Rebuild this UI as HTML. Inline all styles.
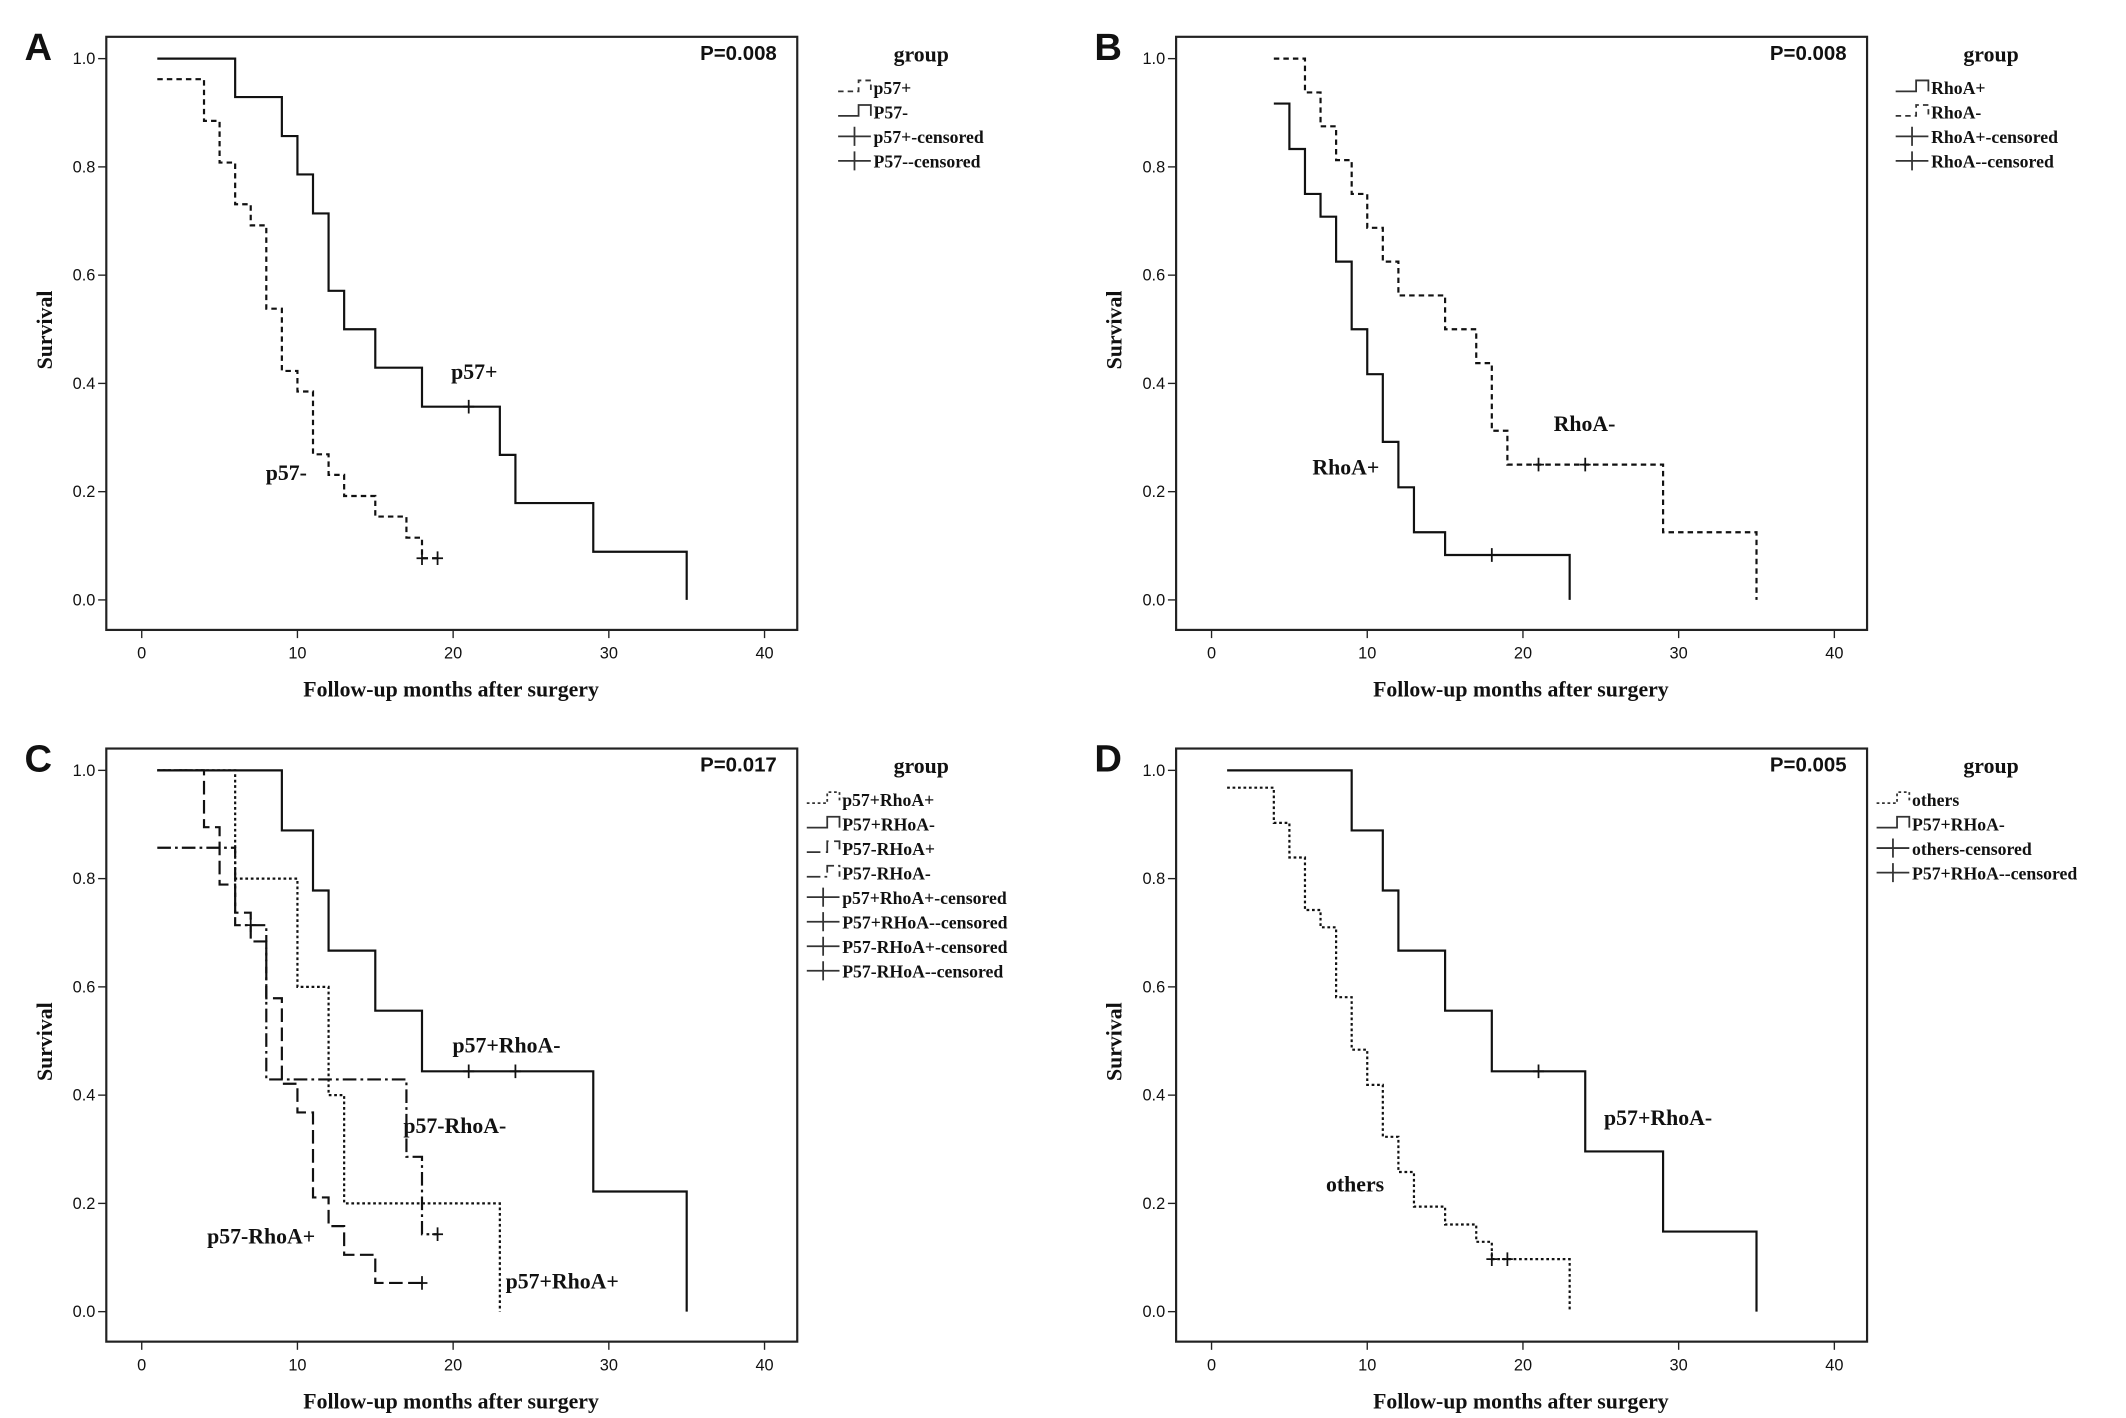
<!DOCTYPE html>
<html><head><meta charset="utf-8"><style>
html,body{margin:0;padding:0;background:#fff;}
svg{display:block;}
text{font-family:"Liberation Serif",serif;fill:#111;}
.tick{font-family:"Liberation Sans",sans-serif;font-size:12px;}
.lbl{font-weight:bold;font-size:16px;}
.leg{font-weight:bold;font-size:13px;}
.letter{font-family:"Liberation Sans",sans-serif;font-weight:bold;font-size:28px;}
.pval{font-family:"Liberation Sans",sans-serif;font-weight:bold;font-size:15px;}
</style></head><body>
<svg id="fig" width="2126" height="1418" viewBox="0 0 1560 1040" preserveAspectRatio="none" xmlns="http://www.w3.org/2000/svg"></svg>
<script>
// ---- data ----
const xTicks = [0,10,20,30,40];
const yTicks = [0.0,0.2,0.4,0.6,0.8,1.0];
const panelLetters = ["A","B","C","D"];
const panelPvals = ["P=0.008","P=0.008","P=0.017","P=0.005"];

// Panel A
const aSolidStart = [1,1.0], aSolidT = [6,9,10,11,12,13,15,18,23,24,29,35], aSolidS = [0.929,0.857,0.786,0.714,0.571,0.5,0.429,0.357,0.268,0.179,0.089,0], aSolidCens = [21];
const aDashStart = [1,0.962], aDashT = [4,5,6,7,8,9,10,11,12,13,15,17,18], aDashS = [0.885,0.808,0.731,0.692,0.538,0.423,0.385,0.269,0.231,0.192,0.154,0.115,0.077], aDashCens = [18,19];
// Panel B
const bSolidStart = [4,0.917], bSolidT = [5,6,7,8,9,10,11,12,13,15,23], bSolidS = [0.833,0.75,0.708,0.625,0.5,0.417,0.292,0.208,0.125,0.083,0], bSolidCens = [18];
const bDashStart = [4,1.0], bDashT = [6,7,8,9,10,11,12,15,17,18,19,29,35], bDashS = [0.9375,0.875,0.8125,0.75,0.6875,0.625,0.5625,0.5,0.4375,0.3125,0.25,0.125,0], bDashCens = [21,24];
// Panel C
const cSolidStart = [1,1.0], cSolidT = [9,11,12,15,18,29,35], cSolidS = [0.889,0.778,0.667,0.556,0.444,0.222,0], cSolidCens = [21,24];
const cDotStart = [1,1.0], cDotT = [6,10,12,13,23], cDotS = [0.8,0.6,0.4,0.2,0], cDotCens = [];
const cLongStart = [1,1.0], cLongT = [4,5,6,7,8,9,10,11,12,13,15], cLongS = [0.895,0.789,0.737,0.684,0.579,0.421,0.368,0.211,0.158,0.105,0.053], cLongCens = [18];
const cDDStart = [1,0.857], cDDT = [6,8,17,18], cDDS = [0.714,0.429,0.286,0.143], cDDCens = [7,19];
// Panel D
const dSolidStart = [1,1.0], dSolidT = [9,11,12,15,18,24,29,35], dSolidS = [0.889,0.778,0.667,0.556,0.444,0.296,0.148,0], dSolidCens = [21];
const dDotStart = [1,0.968], dDotT = [4,5,6,7,8,9,10,11,12,13,15,17,18,23], dDotS = [0.903,0.839,0.742,0.71,0.581,0.484,0.419,0.323,0.258,0.194,0.161,0.129,0.097,0], dDotCens = [18,19];

const legA = ["p57+","P57-","p57+-censored","P57--censored"];
const legB = ["RhoA+","RhoA-","RhoA+-censored","RhoA--censored"];
const legC = ["p57+RhoA+","P57+RHoA-","P57-RHoA+","P57-RHoA-","p57+RhoA+-censored","P57+RHoA--censored","P57-RHoA+-censored","P57-RHoA--censored"];
const legD = ["others","P57+RHoA-","others-censored","P57+RHoA--censored"];

// ---- drawing ----
const NS="http://www.w3.org/2000/svg";
const svg=document.getElementById('fig');
function mk(tag,attrs,parent){const e=document.createElementNS(NS,tag);for(const k in attrs)e.setAttribute(k,attrs[k]);(parent||svg).appendChild(e);return e;}
const DASH={solid:"",dash:"4,3",dot:"2,2",long:"10,4",dd:"10,3,2,3"};

function panel(idx,ox,oy,series,legend,legStyles,labels,lx0){
  const g=mk('g',{transform:`translate(${ox},${oy})`});
  
  
  const X=t=>104+t*(561-104)/40;
  const Y=s=>440-s*(440-43);
  const box=mk('rect',{x:78,y:27,width:507,height:435,fill:'none',stroke:'#222','stroke-width':1.6},g);
  
  
  xTicks.forEach(t=>{
    mk('line',{x1:X(t),x2:X(t),y1:462,y2:468,stroke:'#222','stroke-width':1},g);
    const tx=mk('text',{x:X(t),y:483,'text-anchor':'middle',class:'tick'},g);tx.textContent=t;
    
    
  });
  yTicks.forEach(s=>{
    mk('line',{x1:72,x2:78,y1:Y(s),y2:Y(s),stroke:'#222','stroke-width':1},g);
    const tx=mk('text',{x:70,y:Y(s)+4,'text-anchor':'end',class:'tick'},g);tx.textContent=s.toFixed(1);
    
    
  });
  const xl=mk('text',{x:331,y:511,'text-anchor':'middle',class:'lbl'},g);xl.textContent='Follow-up months after surgery';
  
  
  const yl=mk('text',{x:0,y:0,'text-anchor':'middle',class:'lbl',transform:'translate(38,242) rotate(-90)'},g);yl.textContent='Survival';
  
  
  const lt=mk('text',{x:18,y:44,class:'letter'},g);lt.textContent=panelLetters[idx];
  
  
  const pv=mk('text',{x:570,y:44,'text-anchor':'end',class:'pval'},g);pv.textContent=panelPvals[idx];
  
  
  series.forEach(se=>{
    let d=`M${X(se.start[0])},${Y(se.start[1])}`;
    se.t.forEach((t,i)=>{d+=` H${X(t)} V${Y(se.s[i])}`;});
    let last=se.s.length?se.s[se.s.length-1]:se.start[1];
    if(se.cens.length){const mx=Math.max(...se.cens);if(last>0&&mx>se.t[se.t.length-1])d+=` H${X(mx)}`;}
    const p=mk('path',{d:d,fill:'none',stroke:'#111','stroke-width':1.6,'stroke-dasharray':DASH[se.style]},g);
    
    
    se.cens.forEach(c=>{
      let s=se.start[1];se.t.forEach((t,i)=>{if(t<=c)s=se.s[i];});
      const m=mk('path',{d:`M${X(c)-4},${Y(s)} H${X(c)+4} M${X(c)},${Y(s)-5} V${Y(s)+5}`,stroke:'#111','stroke-width':1.3},g);
      
      
    });
  });
  labels.forEach(l=>{const t=mk('text',{x:l[1],y:l[2],class:'lbl'},g);t.textContent=l[0];
    
    });
  const lg=mk('g',{},g);
  
  
  const gt=mk('text',{x:676,y:45,'text-anchor':'middle',class:'lbl'},lg);gt.textContent='group';
  legend.forEach((name,i)=>{
    const y=68+i*18, st=legStyles[i];
    const e=mk('g',{},lg);
    
    
    if(st==='cens'){
      mk('path',{d:`M${lx0},${y-4} H${lx0+24} M${lx0+12},${y-11} V${y+3}`,stroke:'#333','stroke-width':1.3},e);
    } else {
      mk('path',{d:`M${lx0},${y-1} H${lx0+15} V${y-9} H${lx0+24} V${y-1}`,fill:'none',stroke:'#333','stroke-width':1.3,'stroke-dasharray':DASH[st]},e);
    }
    const t=mk('text',{x:lx0+26,y:y+1,class:'leg'},e);t.textContent=name;
  });
}

function S(name,style,start,t,s,cens){return {name,style,start,t,s,cens};}
panel(0,0,0,[S('p57-neg','solid',aSolidStart,aSolidT,aSolidS,aSolidCens),S('p57-pos','dash',aDashStart,aDashT,aDashS,aDashCens)],
  legA,['dash','solid','cens','cens'],[['p57+',331,278],['p57-',195,352]],615);
panel(1,785,0,[S('rhoa-pos','solid',bSolidStart,bSolidT,bSolidS,bSolidCens),S('rhoa-neg','dash',bDashStart,bDashT,bDashS,bDashCens)],
  legB,['solid','dash','cens','cens'],[['RhoA-',355,316],['RhoA+',178,348]],606);
panel(2,0,522,[S('p57pos-rhoaneg','solid',cSolidStart,cSolidT,cSolidS,cSolidCens),S('p57pos-rhoapos','dot',cDotStart,cDotT,cDotS,cDotCens),S('p57neg-rhoapos','long',cLongStart,cLongT,cLongS,cLongCens),S('p57neg-rhoaneg','dd',cDDStart,cDDT,cDDS,cDDCens)],
  legC,['dot','solid','long','dd','cens','cens','cens','cens'],[['p57+RhoA-',332,250],['p57-RhoA-',296,309],['p57-RhoA+',152,390],['p57+RhoA+',371,423]],592);
panel(3,785,522,[S('p57pos-rhoaneg','solid',dSolidStart,dSolidT,dSolidS,dSolidCens),S('others','dot',dDotStart,dDotT,dDotS,dDotCens)],
  legD,['dot','solid','cens','cens'],[['p57+RhoA-',392,303],['others',188,352]],592);
</script>
</body></html>
